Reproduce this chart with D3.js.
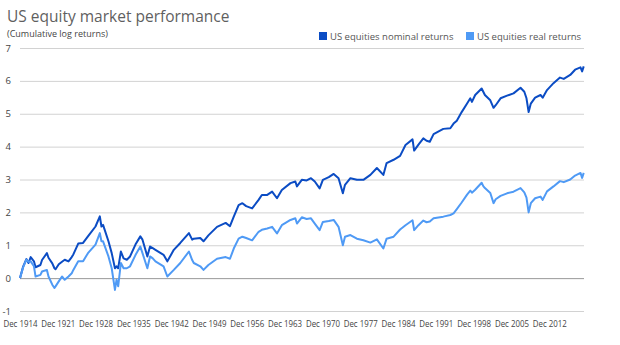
<!DOCTYPE html>
<html>
<head>
<meta charset="utf-8">
<script src="https://cdn.jsdelivr.net/npm/d3@7"></script>
<style>
  body { margin: 0; background: #fff; }
  text { font-family: "Open Sans", sans-serif; }
</style>
</head>
<body>
<script>
var width = 620,
    height = 345;

// decimal years
var years = [1914.92, 1915.5, 1916.1, 1916.5, 1916.9, 1917.5, 1917.8, 1918.7, 1919.0, 1919.9,
  1920.2, 1920.9, 1921.3, 1921.5, 1922.1, 1922.7, 1923.2, 1923.9, 1924.5, 1924.8,
  1925.7, 1926.6, 1927.5, 1928.9, 1929.7, 1930.0, 1930.3, 1931.3, 1931.9, 1932.5,
  1932.8, 1933.1, 1933.6, 1934.1, 1934.7, 1935.3, 1936.3, 1937.2, 1937.6, 1938.5,
  1939.0, 1939.5, 1940.0, 1941.5, 1942.2, 1943.4, 1944.6, 1946.2, 1946.8, 1947.1,
  1948.3, 1948.9, 1949.8, 1951.4, 1953.0, 1953.8, 1954.5, 1955.4, 1956.1, 1956.8,
  1957.9, 1959.1, 1959.7, 1960.7, 1961.6, 1962.5, 1963.4, 1965.0, 1965.9, 1966.2,
  1967.1, 1968.0, 1968.8, 1969.5, 1970.4, 1971.0, 1972.1, 1973.0, 1973.9, 1974.7,
  1975.1, 1976.1, 1977.3, 1978.5, 1979.8, 1981.0, 1982.2, 1982.8, 1984.1, 1985.3,
  1986.3, 1987.6, 1987.9, 1988.7, 1989.6, 1990.2, 1990.8, 1991.5, 1993.3, 1994.6,
  1995.2, 1995.8, 1996.7, 1997.7, 1998.3, 1998.6, 1999.2, 2000.4, 2000.7, 2001.0,
  2002.0, 2002.6, 2003.0, 2003.9, 2005.1, 2006.3, 2007.6, 2008.3, 2008.7, 2009.1,
  2009.5, 2010.3, 2011.3, 2011.7, 2012.5, 2013.7, 2014.9, 2015.6, 2016.8, 2017.7,
  2018.7, 2019.0, 2019.3];

var nominal = [0, 0.35, 0.58, 0.46, 0.64, 0.51, 0.33, 0.40, 0.55, 0.76,
  0.62, 0.45, 0.30, 0.27, 0.42, 0.50, 0.56, 0.51, 0.64, 0.72,
  1.05, 1.07, 1.27, 1.57, 1.88, 1.57, 1.62, 1.12, 0.76, 0.30,
  0.36, 0.30, 0.81, 0.60, 0.56, 0.66, 1.02, 1.27, 1.17, 0.66,
  0.96, 0.91, 0.86, 0.71, 0.51, 0.86, 1.07, 1.37, 1.17, 1.20,
  1.22, 1.12, 1.30, 1.56, 1.68, 1.58, 1.87, 2.22, 2.28, 2.19,
  2.12, 2.38, 2.53, 2.53, 2.63, 2.43, 2.68, 2.89, 2.94, 2.79,
  2.99, 2.97, 3.04, 2.94, 2.73, 2.99, 3.07, 3.17, 3.04, 2.58,
  2.84, 3.04, 2.99, 2.99, 3.14, 3.35, 3.14, 3.50, 3.60, 3.72,
  4.05, 4.22, 3.88, 4.06, 4.25, 4.18, 4.15, 4.38, 4.54, 4.56,
  4.70, 4.79, 5.05, 5.31, 5.47, 5.36, 5.57, 5.77, 5.67, 5.57,
  5.41, 5.18, 5.26, 5.47, 5.55, 5.62, 5.79, 5.67, 5.47, 5.05,
  5.31, 5.49, 5.57, 5.49, 5.72, 5.93, 6.10, 6.06, 6.18, 6.34,
  6.41, 6.29, 6.44];

var real = [0, 0.33, 0.56, 0.50, 0.51, 0.36, 0.05, 0.10, 0.20, 0.25,
  0.05, -0.20, -0.30, -0.25, -0.10, 0.05, -0.05, 0.05, 0.15, 0.25,
  0.51, 0.51, 0.76, 1.02, 1.37, 1.12, 1.12, 0.66, 0.30, -0.36,
  -0.05, -0.25, 0.46, 0.30, 0.30, 0.36, 0.70, 0.96, 0.76, 0.30,
  0.66, 0.60, 0.51, 0.36, 0.05, 0.25, 0.46, 0.81, 0.55, 0.46,
  0.36, 0.25, 0.40, 0.59, 0.64, 0.59, 0.90, 1.20, 1.26, 1.22,
  1.15, 1.41, 1.47, 1.51, 1.56, 1.36, 1.61, 1.77, 1.82, 1.66,
  1.85, 1.80, 1.82, 1.66, 1.46, 1.71, 1.74, 1.77, 1.56, 1.00,
  1.26, 1.31, 1.20, 1.15, 1.08, 1.18, 0.90, 1.20, 1.26, 1.48,
  1.61, 1.76, 1.46, 1.61, 1.75, 1.70, 1.72, 1.82, 1.87, 1.92,
  1.97, 2.10, 2.30, 2.54, 2.66, 2.60, 2.69, 2.90, 2.80, 2.74,
  2.59, 2.28, 2.40, 2.50, 2.58, 2.63, 2.74, 2.61, 2.45, 2.00,
  2.28, 2.43, 2.48, 2.38, 2.64, 2.79, 2.95, 2.92, 3.00, 3.12,
  3.20, 3.05, 3.20];

var tickYears = [1914, 1921, 1928, 1935, 1942, 1949, 1956, 1963, 1970, 1977, 1984, 1991, 1998, 2005, 2012];
var yTicks = [-1, 0, 1, 2, 3, 4, 5, 6, 7];
var seriesNames = ["US equities nominal returns", "US equities real returns"];
var colors = ["#0b4cc4", "#4f9af5"];

function toDate(y) {
  var yr = Math.floor(y);
  return new Date(yr, 0, 1 + Math.round((y - yr) * 365));
}

var x = d3.scaleTime()
    .domain([toDate(1914.92), toDate(2019.35)])
    .range([20, 584]);

var y = d3.scaleLinear()
    .domain([-1, 7])
    .range([311, 48]);

var svg = d3.select("body").append("svg")
    .attr("width", width)
    .attr("height", height);

// title
svg.append("text")
    .attr("x", 7).attr("y", 22)
    .attr("font-size", 15.5)
    .attr("fill", "#5f5f5f")
    .text("US equity market performance");

svg.append("text")
    .attr("x", 7).attr("y", 37)
    .attr("font-size", 9)
    .attr("fill", "#444")
    .text("(Cumulative log returns)");

// gridlines
var yAxis = svg.append("g")
    .attr("transform", "translate(20,0)")
    .call(d3.axisLeft(y).tickValues(yTicks).tickSize(-564).tickFormat(function(d) { return String(d); }));
yAxis.select(".domain").remove();
yAxis.selectAll(".tick line")
    .attr("stroke", function(d) { return d === 0 ? "#999" : "#d2d2d2"; });
yAxis.selectAll(".tick text")
    .attr("x", -9)
    .attr("font-size", 9.5)
    .attr("font-family", "Open Sans, sans-serif")
    .attr("fill", "#444");

// x axis labels
var xAxis = svg.append("g")
    .attr("transform", "translate(0,311)")
    .call(d3.axisBottom(x)
      .tickValues(tickYears.map(function(d) { return new Date(d, 11, 1); }))
      .tickSize(0)
      .tickFormat(d3.timeFormat("Dec %Y")));
xAxis.select(".domain").remove();
xAxis.selectAll(".tick text")
    .attr("y", 10)
    .attr("font-size", 9)
    .attr("textLength", 34)
    .attr("lengthAdjust", "spacingAndGlyphs")
    .attr("font-family", "Open Sans, sans-serif")
    .attr("fill", "#444");

// lines
var series = [nominal, real];
series.forEach(function(vals, i) {
  var line = d3.line()
      .x(function(d, j) { return x(toDate(years[j])); })
      .y(function(d) { return y(d); });
  svg.append("path")
      .datum(vals)
      .attr("fill", "none")
      .attr("stroke", colors[i])
      .attr("stroke-width", 2)
      .attr("stroke-linejoin", "round")
      .attr("d", line);
});

// legend
var legendX = [319, 466];
seriesNames.forEach(function(name, i) {
  svg.append("rect")
      .attr("x", legendX[i]).attr("y", 32)
      .attr("width", 8).attr("height", 8)
      .attr("fill", colors[i]);
  svg.append("text")
      .attr("x", legendX[i] + 11).attr("y", 40)
      .attr("font-size", 9.5)
      .attr("fill", "#555")
      .text(name);
});
</script>
</body>
</html>
